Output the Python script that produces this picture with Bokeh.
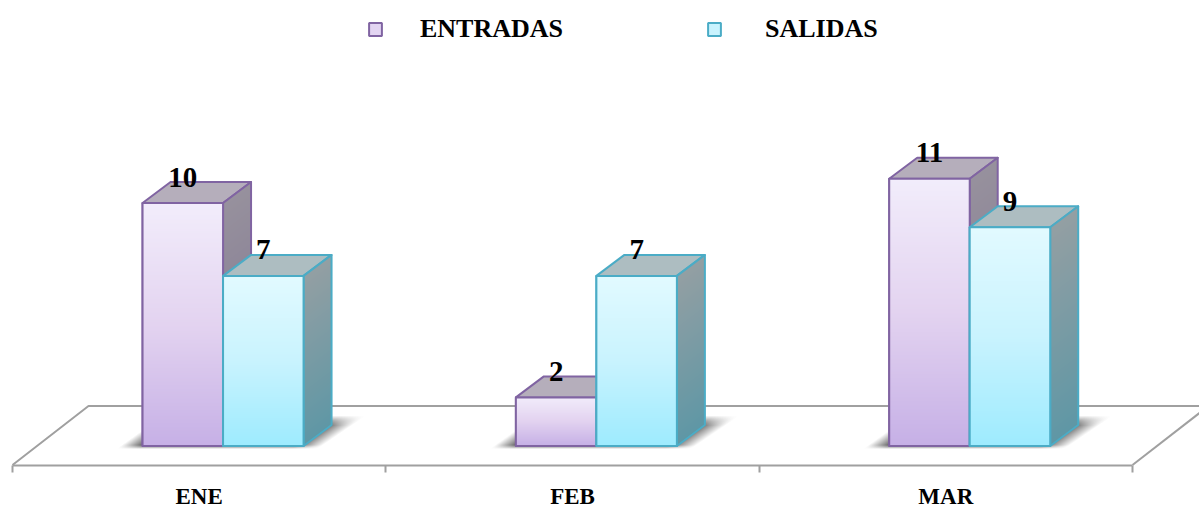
import numpy as np
from bokeh.plotting import figure
from bokeh.embed import file_html
from bokeh.resources import INLINE
from bokeh.core.properties import value
from bokeh.models import Range1d, FixedTicker, Legend, LegendItem

# data
months = ["ENE", "FEB", "MAR"]
entradas = [10, 2, 11]
salidas = [7, 7, 9]

# geometry (pixels of the page, scale constants)
PX_PER_CAT = 373.33
PX_PER_VAL = 24.3
X0_PX, Y0_PX = 12.0, 445.5
PAGE_W, PAGE_H = 1199, 507
BAR_W = 80.5 / PX_PER_CAT
DX = 28 / PX_PER_CAT
DY = 21 / PX_PER_VAL
GROUP_OFFSET = 0.564
FLOOR_BACK = 40 / PX_PER_VAL
FLOOR_FRONT = -19 / PX_PER_VAL
FLOOR_DX = 76 / PX_PER_CAT
FONT = value("Liberation Serif")
GRAY = "#a0a0a0"

PURPLE = dict(line="#8064a2", top="#b5aebb", mid="#e3d5f2",
              front=[(0.0, "#c6b0e6"), (0.5, "#e3d3f0"), (1.0, "#f2edfb")],
              side=("#7d7390", "#97919d"))
CYAN = dict(line="#4bacc6", top="#adbdc1", mid="#c9f3fe",
            front=[(0.0, "#9eebfe"), (0.5, "#c9f3fe"), (1.0, "#e2faff")],
            side=("#5f97a5", "#949fa3"))


def rgb(c):
    return np.array([int(c[i:i + 2], 16) for i in (1, 3, 5)], dtype=float)


def to_rgba(arr):
    r = np.empty(arr.shape[:2], dtype=np.uint32)
    v = r.view(dtype=np.uint8).reshape((*arr.shape[:2], 4))
    v[...] = np.clip(arr + 0.5, 0, 255).astype(np.uint8)
    return r


def front_image(h_val, stops):
    n = max(int(round(h_val * PX_PER_VAL)), 2)
    t = (np.arange(n) + 0.5) / n
    pos = [s[0] for s in stops]
    cols = np.array([rgb(s[1]) for s in stops])
    a = np.zeros((n, 1, 4))
    for k in range(3):
        a[:, 0, k] = np.interp(t, pos, cols[:, k])
    a[:, 0, 3] = 255
    return to_rgba(a)


def side_image(h_val, colors):
    w = int(round(DX * PX_PER_CAT))
    dy = DY * PX_PER_VAL
    h = h_val * PX_PER_VAL
    n = int(round(h + dy))
    a = np.zeros((n, w, 4))
    lo, hi = rgb(colors[0]), rgb(colors[1])
    yy, xx = np.mgrid[0:n, 0:w]
    u = (xx + 0.5) / w
    y = yy + 0.5
    t = np.clip((y - u * dy) / h, 0, 1)
    for k in range(3):
        a[..., k] = lo[k] + (hi[k] - lo[k]) * t
    a[..., 3] = np.where((y >= u * dy) & (y <= h + u * dy), 255, 0)
    return to_rgba(a)


SH_W, SH_H = 262, 36


def shadow_image():
    # soft slanted shadow, row 0 at the bottom
    yy, xx = np.mgrid[0:SH_H, 0:SH_W]
    edge_l = 2 + 1.4 * yy
    edge_r = 203 + 1.47 * yy
    al = np.clip((xx - edge_l) / 22, 0, 1)
    ar = np.clip((edge_r - xx) / 26, 0, 1)
    ab = np.clip((yy - 0.5) / 4, 0, 1)
    at = np.clip((SH_H - 2 - yy) / 10, 0, 1)
    a = np.zeros((SH_H, SH_W, 4))
    a[..., :3] = 60
    a[..., 3] = 210 * al * ar * ab * at
    return to_rgba(a)


p = figure(
    width=PAGE_W, height=PAGE_H, output_backend="svg", toolbar_location=None,
    x_range=Range1d(-X0_PX / PX_PER_CAT, (PAGE_W - X0_PX) / PX_PER_CAT),
    y_range=Range1d((Y0_PX - PAGE_H) / PX_PER_VAL, Y0_PX / PX_PER_VAL),
    y_axis_location=None, min_border_left=0, min_border_right=0,
    min_border_top=0, min_border_bottom=0,
)
p.grid.visible = False
p.outline_line_color = None
p.background_fill_color = None
p.border_fill_color = None

ax = p.xaxis[0]
ax.fixed_location = FLOOR_FRONT
ax.ticker = FixedTicker(ticks=[0.5, 1.5, 2.5], minor_ticks=list(range(len(months) + 1)))
ax.major_label_overrides = {i + 0.5: m for i, m in enumerate(months)}
ax.bounds = (0, len(months))
ax.axis_line_color = GRAY
ax.axis_line_width = 2
ax.major_tick_line_color = None
ax.minor_tick_line_color = GRAY
ax.minor_tick_line_width = 2
ax.minor_tick_in = 0
ax.minor_tick_out = 7
ax.major_label_standoff = 12
ax.major_label_text_font = "Liberation Serif"
ax.major_label_text_font_style = "bold"
ax.major_label_text_font_size = "23px"
ax.major_label_text_color = "#000000"

# floor
n = len(months)
p.line([0, FLOOR_DX, n + FLOOR_DX * 1.2], [FLOOR_FRONT, FLOOR_BACK, FLOOR_BACK],
       line_color=GRAY, line_width=2)
p.line([n, n + FLOOR_DX], [FLOOR_FRONT, FLOOR_BACK], line_color=GRAY, line_width=2)

# shadows
sh = shadow_image()
for i in range(n):
    gx = i + GROUP_OFFSET
    p.image_rgba(image=[sh], x=gx - 110 / PX_PER_CAT, y=-4 / PX_PER_VAL,
                 dw=SH_W / PX_PER_CAT, dh=SH_H / PX_PER_VAL)


def draw_bar(x, v, st):
    x2 = x + BAR_W
    base = p.quad(left=[x], right=[x2], bottom=[0], top=[v],
                  fill_color=st["mid"], line_color=st["line"], line_width=2)
    # top face
    p.patch([x, x + DX, x2 + DX, x2], [v, v + DY, v + DY, v], fill_color=st["top"],
            line_color=st["line"], line_width=2, line_join="round")
    # side face
    p.image_rgba(image=[side_image(v, st["side"])], x=x2, y=0, dw=DX, dh=v + DY)
    p.patch([x2, x2 + DX, x2 + DX, x2], [0, DY, v + DY, v], fill_alpha=0,
            line_color=st["line"], line_width=2, line_join="round")
    # front face
    p.image_rgba(image=[front_image(v, st["front"])], x=x, y=0, dw=BAR_W, dh=v)
    p.quad(left=[x], right=[x2], bottom=[0], top=[v], fill_alpha=0,
           line_color=st["line"], line_width=2, line_join="round")
    return base


r_e = r_s = None
for i in range(n):
    gx = i + GROUP_OFFSET
    r_e = draw_bar(gx - BAR_W, entradas[i], PURPLE)
    r_s = draw_bar(gx, salidas[i], CYAN)
    for v, x in ((entradas[i], gx - BAR_W / 2), (salidas[i], gx + BAR_W / 2)):
        p.text(x=[x], y=[v], text=[str(v)], text_font=FONT, text_font_style="bold",
               text_font_size="29px", text_color="#000000", text_align="center",
               text_baseline="middle", y_offset=-26)

common = dict(padding=0, margin=0, glyph_width=16, glyph_height=16,
              label_text_font="Liberation Serif", label_text_font_style="bold",
              label_text_font_size="26px", label_text_color="#000000",
              border_line_color=None, background_fill_alpha=0)
p.add_layout(Legend(items=[LegendItem(label="ENTRADAS", renderers=[r_e])],
                    location=(367, 463), label_standoff=37, **common), "center")
p.add_layout(Legend(items=[LegendItem(label="SALIDAS", renderers=[r_s])],
                    location=(706, 463), label_standoff=43, **common), "center")

open("out.html", "w").write(file_html(p, INLINE))
